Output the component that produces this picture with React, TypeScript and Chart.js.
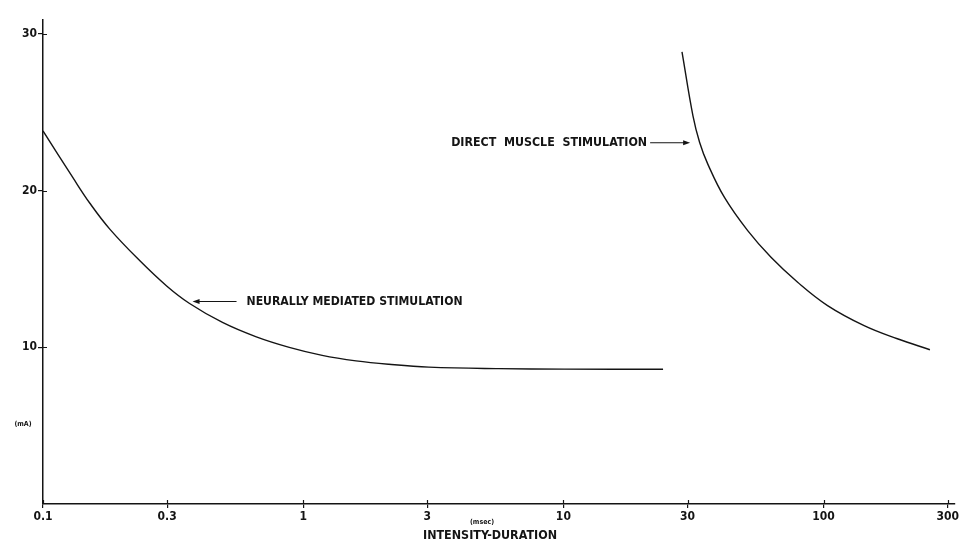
import { useEffect, useRef } from 'react';
import { Chart, registerables } from 'chart.js';

Chart.register(...registerables);

// Stimulus duration (msec) and threshold current (mA)
const neuralDuration = [0.1, 0.1303, 0.1514, 0.1806, 0.2352, 0.2987, 0.3659, 0.4895, 0.6605, 0.884, 1.183, 1.596, 2.135, 3.04, 5.64, 10.09, 24.16];
const neuralCurrent = [23.82, 20.83, 19.2, 17.55, 15.54, 13.92, 12.8, 11.59, 10.67, 10.0, 9.49, 9.14, 8.92, 8.74, 8.64, 8.61, 8.6];

const muscleDuration = [28.57, 31.48, 33.4, 35.9, 41.6, 51.1, 62.8, 79.5, 103.6, 143.2, 192.1, 256.3];
const muscleCurrent = [28.87, 24.78, 23.08, 21.7, 19.57, 17.45, 15.75, 14.16, 12.67, 11.39, 10.55, 9.85];

const xTickValues = [0.1, 0.3, 1, 3, 10, 30, 100, 300];
const xTickLabels = ['0.1', '0.3', '1', '3', '10', '30', '100', '300'];
const yTickValues = [10, 20, 30];
const yTickLabels = ['10', '20', '30'];

const X_MIN = 0.1;
const X_MAX = 320;
const Y_MIN = 0;
const Y_MAX = 30.9;

const directLabel = 'DIRECT  MUSCLE  STIMULATION';
const directArrowTip = { x: 30.7, y: 23.06 };
const neuralLabel = 'NEURALLY MEDIATED STIMULATION';
const neuralArrowTip = { x: 0.3756, y: 12.93 };
const xAxisTitle = 'INTENSITY-DURATION';
const xUnit = '(msec)';
const yUnit = '(mA)';

const INK = '#141414';
const FONT = '"DejaVu Sans Condensed", "Liberation Sans Narrow", "Liberation Sans", sans-serif';

const overlay = {
  id: 'overlay',
  afterDraw(chart: any) {
    const { ctx, chartArea } = chart;
    const xs = chart.scales.x;
    const ys = chart.scales.y;
    ctx.save();
    ctx.strokeStyle = INK;
    ctx.fillStyle = INK;
    ctx.lineWidth = 1.2;
    // inner halves of the crossing tick marks
    ctx.beginPath();
    for (const v of xTickValues) {
      const px = Math.round(xs.getPixelForValue(v)) + 0.5;
      ctx.moveTo(px, chartArea.bottom);
      ctx.lineTo(px, chartArea.bottom - 4);
    }
    for (const v of yTickValues) {
      const py = Math.round(ys.getPixelForValue(v)) + 0.5;
      ctx.moveTo(chartArea.left, py);
      ctx.lineTo(chartArea.left + 4, py);
    }
    ctx.stroke();

    const arrow = (x1: number, y: number, x2: number) => {
      const dir = Math.sign(x2 - x1);
      ctx.lineWidth = 1.1;
      ctx.beginPath();
      ctx.moveTo(x1, y);
      ctx.lineTo(x2 - dir * 5, y);
      ctx.stroke();
      ctx.beginPath();
      ctx.moveTo(x2, y);
      ctx.lineTo(x2 - dir * 7, y - 2.5);
      ctx.lineTo(x2 - dir * 7, y + 2.5);
      ctx.closePath();
      ctx.fill();
    };

    // Direct muscle annotation
    const dx = xs.getPixelForValue(directArrowTip.x);
    const dy = ys.getPixelForValue(directArrowTip.y);
    arrow(dx - 40, dy, dx);
    ctx.font = 'bold 12.5px ' + FONT;
    ctx.textBaseline = 'middle';
    ctx.textAlign = 'right';
    ctx.fillText(directLabel, dx - 43, dy, 196);

    // Neural annotation
    const nx = xs.getPixelForValue(neuralArrowTip.x);
    const ny = ys.getPixelForValue(neuralArrowTip.y);
    arrow(nx + 44, ny, nx);
    ctx.textAlign = 'left';
    ctx.fillText(neuralLabel, nx + 54, ny, 216);

    // axis title and units
    ctx.textAlign = 'center';
    ctx.font = 'bold 13px ' + FONT;
    ctx.fillText(xAxisTitle, 490, 536, 134);
    ctx.font = 'bold 7px ' + FONT;
    ctx.fillText(xUnit, 482, 522);
    ctx.fillText(yUnit, 23, 424);
    ctx.restore();
  },
};

export default function App() {
  const canvasRef = useRef<HTMLCanvasElement | null>(null);

  useEffect(() => {
    if (!canvasRef.current) return;
    const neuralData = neuralDuration.map((d, i) => ({ x: d, y: neuralCurrent[i] }));
    const muscleData = muscleDuration.map((d, i) => ({ x: d, y: muscleCurrent[i] }));
    const tickFont = { family: FONT, size: 12, weight: 'bold' as const };

    const chart = new Chart(canvasRef.current, {
      type: 'line',
      data: {
        datasets: [
          {
            label: 'Neurally mediated stimulation',
            data: neuralData,
            borderColor: INK,
            borderWidth: 1.4,
            pointRadius: 0,
            fill: false,
            tension: 0.4,
          },
          {
            label: 'Direct muscle stimulation',
            data: muscleData,
            borderColor: INK,
            borderWidth: 1.4,
            pointRadius: 0,
            fill: false,
            tension: 0.4,
          },
        ],
      },
      options: {
        animation: false,
        responsive: false,
        devicePixelRatio: 1,
        layout: { padding: { top: 20, right: 3, left: 0, bottom: 0 } },
        plugins: {
          legend: { display: false },
          tooltip: { enabled: false },
          title: { display: false },
        },
        scales: {
          x: {
            type: 'logarithmic',
            min: X_MIN,
            max: X_MAX,
            afterBuildTicks: (scale: any) => {
              scale.ticks = xTickValues.map((v) => ({ value: v }));
            },
            afterFit: (scale: any) => {
              scale.height = 43;
            },
            ticks: {
              autoSkip: false,
              maxRotation: 0,
              minRotation: 0,
              color: INK,
              font: tickFont,
              padding: 2,
              callback: (_v: any, i: number) => xTickLabels[i],
            },
            grid: {
              display: true,
              drawOnChartArea: false,
              drawTicks: true,
              tickLength: 4,
              color: INK,
              lineWidth: 1.2,
            },
            border: { display: true, color: INK, width: 1.5 },
          },
          y: {
            type: 'linear',
            min: Y_MIN,
            max: Y_MAX,
            afterBuildTicks: (scale: any) => {
              scale.ticks = yTickValues.map((v) => ({ value: v }));
            },
            afterFit: (scale: any) => {
              scale.width = 43;
            },
            ticks: {
              color: INK,
              font: tickFont,
              padding: 1,
              callback: (_v: any, i: number) => yTickLabels[i],
            },
            grid: {
              display: true,
              drawOnChartArea: false,
              drawTicks: true,
              tickLength: 5,
              color: INK,
              lineWidth: 1.2,
            },
            border: { display: true, color: INK, width: 1.5 },
          },
        },
      },
      plugins: [overlay],
    } as any);

    return () => chart.destroy();
  }, []);

  return (
    <div style={{ position: 'absolute', left: 0, top: 0, width: 961, height: 547, background: '#fff' }}>
      <canvas ref={canvasRef} width={961} height={547} />
    </div>
  );
}
